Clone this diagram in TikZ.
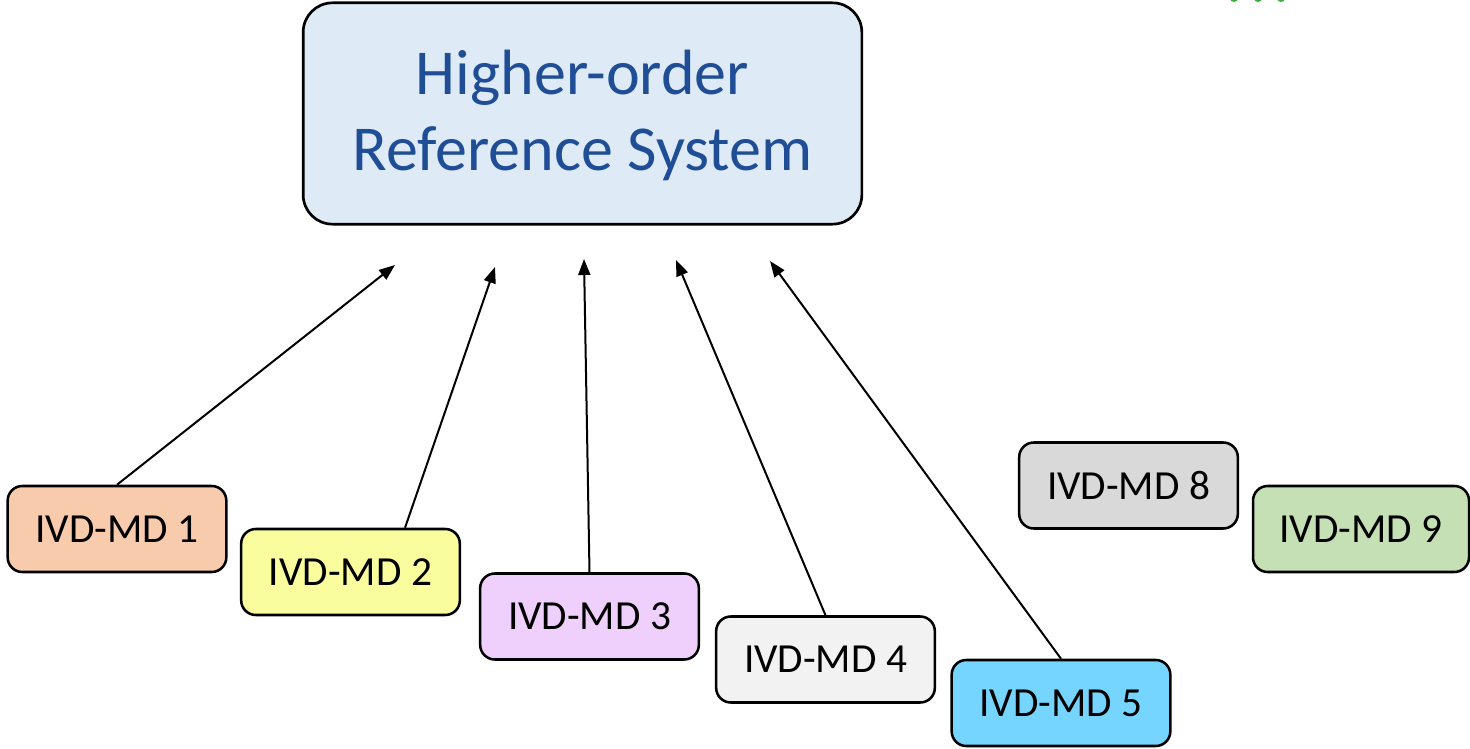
\documentclass[tikz,border=0pt]{standalone}
\usepackage{fontspec}
\setmainfont{Carlito}
\usetikzlibrary{arrows.meta,calc}
\definecolor{topfill}{HTML}{DEEAF6}
\definecolor{titleblue}{HTML}{1F4E97}
\definecolor{mdone}{HTML}{F8CBAD}
\definecolor{mdtwo}{HTML}{F9FD9E}
\definecolor{mdthree}{HTML}{EFCFFB}
\definecolor{mdfour}{HTML}{F2F2F2}
\definecolor{mdfive}{HTML}{76D5FF}
\definecolor{mdeight}{HTML}{D9D9D9}
\definecolor{mdnine}{HTML}{C5E0B4}
\definecolor{dotgreen}{HTML}{3DAE3D}
\tikzset{
  mdbox/.style={draw=black, line width=1.9pt, rounded corners=11pt,
    minimum width=164pt, minimum height=64.5pt, inner sep=0pt,
    font=\fontsize{31}{36}\selectfont, text=black},
  topbox/.style={draw=black, line width=2pt, rounded corners=22pt, fill=topfill,
    minimum width=419pt, minimum height=166pt, inner sep=0pt},
  toptext/.style={inner sep=0pt, align=center,
    font=\fontsize{48}{57}\selectfont, text=titleblue},
  link/.style={line width=1.5pt, -{Triangle[length=12pt,width=9pt]}}
}
\begin{document}
\begin{tikzpicture}[x=0.75pt,y=-0.75pt]
  \useasboundingbox (0,0) rectangle (1470,749);
  % small green marks along the top edge
  \begin{scope}
    \clip (0,0) rectangle (1470,749);
    \foreach \gx in {1234,1258,1281}
      \fill[dotgreen] (\gx,-1.5) ellipse (4 and 3.5);
  \end{scope}

  % reference system
  \node[topbox] (hors) at (582.5,113.5) {};
  \node[toptext] (horstitle) at ([yshift=-1.2pt]hors.center) {Higher-order\\Reference System};

  % measuring devices
  \node[mdbox, fill=mdone]   (m1) at (117,529)    {IVD-MD 1};
  \node[mdbox, fill=mdtwo]   (m2) at (350.5,572)  {IVD-MD 2};
  \node[mdbox, fill=mdthree] (m3) at (589.5,616.5){IVD-MD 3};
  \node[mdbox, fill=mdfour]  (m4) at (825.5,659.5){IVD-MD 4};
  \node[mdbox, fill=mdfive]  (m5) at (1061,703)   {IVD-MD 5};
  \node[mdbox, fill=mdeight] (m8) at (1128.5,485.5){IVD-MD 8};
  \node[mdbox, fill=mdnine, minimum width=162pt] (m9) at (1361,529) {IVD-MD 9};

  % arrow tips below the reference system
  \coordinate (t1) at (395,265);
  \coordinate (t2) at (495,267);
  \coordinate (t3) at (584,259);
  \coordinate (t4) at (676,260);
  \coordinate (t5) at (770,261);

  \draw[link] (m1.north) -- (t1);
  \draw[link] ([xshift=40.9pt]m2.north) -- (t2);
  \draw[link] (m3.north) -- (t3);
  \draw[link] (m4.north) -- (t4);
  \draw[link] (m5.north) -- (t5);
\end{tikzpicture}
\end{document}
